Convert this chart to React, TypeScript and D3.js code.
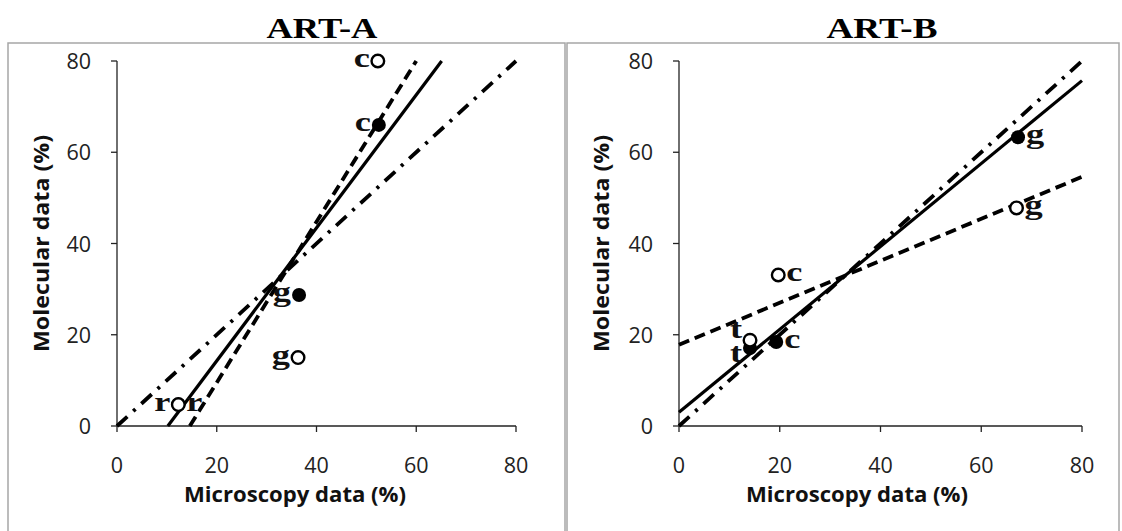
import React from 'react';
import * as d3 from 'd3';

// chart values
const ticks = [0, 20, 40, 60, 80];
const panelTitles = ['ART-A', 'ART-B'];
const xTitle = 'Microscopy data (%)';
const yTitle = 'Molecular data (%)';

// ART-A
const artAOpen = [
  { x: 12.3, y: 4.7, label: 'r', side: 'left' },
  { x: 36.3, y: 15, label: 'g', side: 'left' },
  { x: 52.3, y: 80, label: 'c', side: 'left' },
];
const artAFilled = [
  { x: 12.3, y: 4.7, label: 'r', side: 'right' },
  { x: 36.5, y: 28.7, label: 'g', side: 'left' },
  { x: 52.5, y: 66, label: 'c', side: 'left' },
];
const artALines = [
  { kind: 'dashdot', x1: 0, y1: 0, x2: 80, y2: 80 },
  { kind: 'solid', x1: 10.2, y1: 0, x2: 65.1, y2: 80 },
  { kind: 'dashed', x1: 14.6, y1: 0, x2: 60, y2: 80 },
];

// ART-B
const artBOpen = [
  { x: 14.1, y: 18.8, label: 't', side: 'left' },
  { x: 19.7, y: 33.1, label: 'c', side: 'right' },
  { x: 67, y: 47.8, label: 'g', side: 'right' },
];
const artBFilled = [
  { x: 14.1, y: 17.1, label: 't', side: 'left' },
  { x: 19.3, y: 18.4, label: 'c', side: 'right' },
  { x: 67.3, y: 63.3, label: 'g', side: 'right' },
];
const artBLines = [
  { kind: 'dashdot', x1: 0, y1: 0, x2: 80, y2: 80 },
  { kind: 'solid', x1: 0, y1: 3, x2: 80, y2: 75.7 },
  { kind: 'dashed', x1: 0, y1: 17.8, x2: 80, y2: 54.6 },
];

const dashes = { solid: null, dashed: '11,6', dashdot: '14,8,3,8' };
const tickFont = '"Open Sans", "Liberation Sans", sans-serif';
const serif = '"Liberation Serif", "Times New Roman", serif';

const Panel = ({ box, xRange, title, titleX, open, filled, lines, xTitleX, yTitleX }) => {
  const x = d3.scaleLinear().domain([0, 80]).range(xRange);
  const y = d3.scaleLinear().domain([0, 80]).range([426, 61]);
  const x0 = xRange[0];

  // labels of an open and a filled point that nearly coincide get pushed apart
  const nudge = (d, others, dir) => {
    const close = others.some(o => o.label === d.label && o.side === d.side &&
      Math.abs(x(o.x) - x(d.x)) < 4 && Math.abs(y(o.y) - y(d.y)) > 2 && Math.abs(y(o.y) - y(d.y)) < 14);
    return close ? dir * 8 : 0;
  };

  const label = (d, i, key, dy) => {
    const cx = x(d.x), cy = y(d.y);
    const tx = d.side === 'left' ? cx - 8 : cx + 8;
    return (
      <text key={key + i} transform={`translate(${tx},${cy + 6 + dy}) scale(1.3,1)`}
        textAnchor={d.side === 'left' ? 'end' : 'start'}
        fontFamily={serif} fontWeight="bold" fontSize={28} fill="#111">
        {d.label}
      </text>
    );
  };

  return (
    <g>
      <rect x={box[0]} y={43} width={box[1] - box[0]} height={520}
        fill="#fff" stroke="#a6a6a6" strokeWidth={1.5} />
      <text x={titleX} y={38} textAnchor="middle" fontFamily={serif}
        fontWeight="bold" fontSize={29} textLength={111} lengthAdjust="spacingAndGlyphs">
        {title}
      </text>

      {/* axes */}
      <line x1={x0} x2={x(80)} y1={y(0)} y2={y(0)} stroke="#222" strokeWidth={1.3} />
      <line x1={x0} x2={x0} y1={y(0)} y2={y(80)} stroke="#222" strokeWidth={1.3} />
      {ticks.map(t => (
        <g key={'x' + t}>
          <line x1={x(t)} x2={x(t)} y1={y(0)} y2={y(0) + 6} stroke="#222" strokeWidth={1.3} />
          <text x={x(t)} y={473} textAnchor="middle" fontFamily={tickFont} fontSize={21.5} fill="#222">{t}</text>
        </g>
      ))}
      {ticks.map(t => (
        <g key={'y' + t}>
          <line x1={x0 - 6} x2={x0} y1={y(t)} y2={y(t)} stroke="#222" strokeWidth={1.3} />
          <text x={x0 - 26} y={y(t) + 8} textAnchor="end" fontFamily={tickFont} fontSize={21.5} fill="#222">{t}</text>
        </g>
      ))}
      <text x={xTitleX} y={502} textAnchor="middle" fontFamily={tickFont} fontWeight="bold"
        fontSize={21} textLength={222} lengthAdjust="spacingAndGlyphs" fill="#111">{xTitle}</text>
      <text transform={`translate(${yTitleX},${y(40)}) rotate(-90)`} textAnchor="middle"
        fontFamily={tickFont} fontWeight="bold" fontSize={21} textLength={217}
        lengthAdjust="spacingAndGlyphs" fill="#111">{yTitle}</text>

      {/* fit lines */}
      {lines.map((l, i) => (
        <line key={'l' + i} x1={x(l.x1)} y1={y(l.y1)} x2={x(l.x2)} y2={y(l.y2)}
          stroke="#000" strokeWidth={l.kind === 'solid' ? 3.2 : 3.8}
          strokeDasharray={dashes[l.kind] || undefined} />
      ))}

      {filled.map((d, i) => (
        <circle key={'f' + i} cx={x(d.x)} cy={y(d.y)} r={7} fill="#000" />
      ))}
      {open.map((d, i) => (
        <circle key={'o' + i} cx={x(d.x)} cy={y(d.y)} r={6.3} fill="#fff" stroke="#000" strokeWidth={2.4} />
      ))}
      {filled.map((d, i) => label(d, i, 'fl', nudge(d, open, 1)))}
      {open.map((d, i) => label(d, i, 'ol', nudge(d, filled, -1)))}
    </g>
  );
};

export default function App() {
  return (
    <svg width={1122} height={531} style={{ position: 'absolute', left: 0, top: 0, background: '#fff' }}>
      <rect width={1122} height={531} fill="#fff" />
      <Panel box={[8, 565]} xRange={[117, 516]} title={panelTitles[0]} titleX={322}
        open={artAOpen} filled={artAFilled} lines={artALines} xTitleX={295} yTitleX={49} />
      <Panel box={[567, 1119]} xRange={[679, 1082]} title={panelTitles[1]} titleX={882}
        open={artBOpen} filled={artBFilled} lines={artBLines} xTitleX={857} yTitleX={609} />
    </svg>
  );
}
